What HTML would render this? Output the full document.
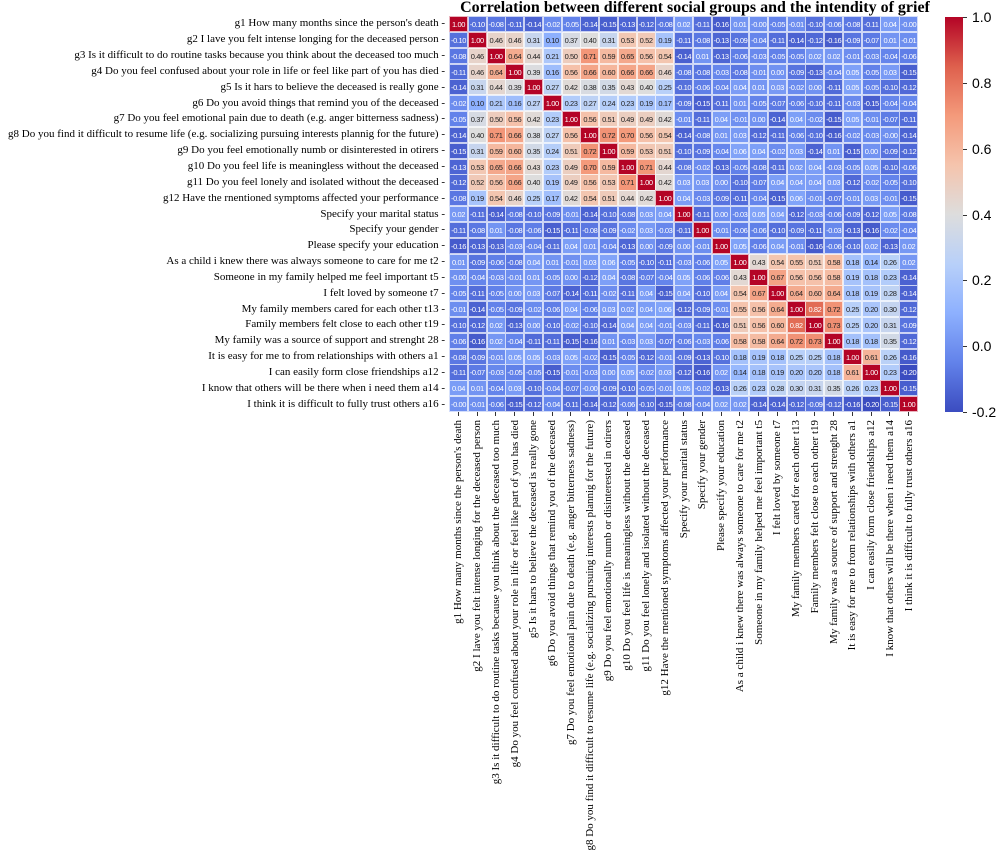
<!DOCTYPE html>
<html><head><meta charset="utf-8">
<style>
body{margin:0;background:#fff;width:1000px;height:865px;position:relative;overflow:hidden;font-family:"Liberation Serif",serif;}
.t{position:absolute;left:415px;top:0px;width:560px;text-align:center;font-weight:bold;font-size:16px;line-height:16px;white-space:nowrap}
.c{position:absolute;box-sizing:border-box;border:0.5px solid rgba(255,255,255,0.7);font-family:"Liberation Sans",sans-serif;font-size:7.5px;line-height:15.8px;text-align:center;overflow:visible;white-space:nowrap;letter-spacing:-0.4px}
.yl{position:absolute;right:555px;font-size:11px;white-space:nowrap;text-align:right;line-height:12px}
.xl{position:absolute;font-size:11px;white-space:nowrap;transform-origin:0 0;line-height:12px}
.tk{position:absolute;background:#333}
.cb{position:absolute;left:945px;top:17px;width:18px;height:395px;background:linear-gradient(to top,rgb(59,76,192),rgb(98,130,234) 12.5%,rgb(141,176,254) 25%,rgb(184,208,249) 37.5%,rgb(221,221,221) 50%,rgb(245,196,173) 62.5%,rgb(244,154,123) 75%,rgb(222,96,77) 87.5%,rgb(180,4,38))}
.cl{position:absolute;left:972px;font-family:"Liberation Sans",sans-serif;font-size:14px}
</style></head><body>
<div class="t">Correlation between different social groups and the intendity of grief</div>
<div class="cb"></div>
<div id="root"></div>
<script>
var L=["g1 How many months since the person's death","g2 I lave you felt intense longing for the deceased person","g3 Is it difficult to do routine tasks because you think about the deceased too much","g4 Do you feel confused about your role in life or feel like part of you has died","g5 Is it hars to believe the deceased is really gone","g6 Do you avoid things that remind you of the deceased","g7 Do you feel emotional pain due to death (e.g. anger bitterness sadness)","g8 Do you find it difficult to resume life (e.g. socializing pursuing interests plannig for the future)","g9 Do you feel emotionally numb or disinterested in otirers","g10 Do you feel life is meaningless without the deceased","g11 Do you feel lonely and isolated without the deceased","g12 Have the rnentioned symptoms affected your performance","Specify your marital status","Specify your gender","Please specify your education","As a child i knew there was always someone to care for me t2","Someone in my family helped me feel important t5","I felt loved by someone t7","My family members cared for each other t13","Family members felt close to each other t19","My family was a source of support and strenght 28","It is easy for me to from relationships with others a1","I can easily form close friendships a12","I know that others will be there when i need them a14","I think it is difficult to fully trust others a16"];
var N=25,M=[];for(var i=0;i<N;i++){M.push([]);for(var j=0;j<N;j++){var h=Math.sin((Math.min(i,j)*31+Math.max(i,j)*7)+1.3)*43758.5;h=h-Math.floor(h);M[i].push(i==j?1:(-0.16+h*0.22));}}
function S(i,j,v){M[i][j]=v;M[j][i]=v;}
var G=[[-.10,-.08,-.11,-.14,-.02,-.05,-.14,-.15,-.13,-.12,-.08],[.46,.46,.31,.10,.37,.40,.31,.53,.52,.19],[.64,.44,.21,.50,.71,.59,.65,.56,.54],[.39,.16,.56,.66,.60,.66,.66,.46],[.27,.42,.38,.35,.43,.40,.25],[.23,.27,.24,.23,.19,.17],[.56,.51,.49,.49,.42],[.72,.70,.56,.54],[.59,.53,.51],[.71,.44],[.42]];
for(var a=0;a<G.length;a++)for(var b=0;b<G[a].length;b++)S(a,a+1+b,G[a][b]);
var T=[[.43,.54,.55,.51,.58,.18,.14,.26,.02],[.67,.56,.56,.58,.19,.18,.23,-.14],[.64,.60,.64,.18,.19,.28,-.14],[.82,.72,.25,.20,.30,-.12],[.73,.25,.20,.31,-.09],[.18,.18,.35,-.12],[.61,.26,-.16],[.23,-.20],[-.15]];
for(a=0;a<T.length;a++)for(b=0;b<T[a].length;b++)S(15+a,16+a+b,T[a][b]);
S(12,13,-.11);S(12,14,0);S(13,14,-.01);
var P=[[0,[59,76,192]],[.125,[98,130,234]],[.25,[141,176,254]],[.375,[184,208,249]],[.5,[221,221,221]],[.625,[245,196,173]],[.75,[244,154,123]],[.875,[222,96,77]],[1,[180,4,38]]];
function col(v){var t=(v+0.2)/1.2;t=Math.max(0,Math.min(1,t));for(var k=0;k<P.length-1;k++){if(t<=P[k+1][0]){var f=(t-P[k][0])/(P[k+1][0]-P[k][0]);var c=[0,1,2].map(function(q){return Math.round(P[k][1][q]+f*(P[k+1][1][q]-P[k][1][q]))});return "rgb("+c.join(",")+")";}}return "rgb(180,4,38)";}
var x0=449,y0=16,cw=18.76,ch=15.84,h="";
for(i=0;i<N;i++)for(j=0;j<N;j++){var v=M[i][j];var t=(v+0.2)/1.2;var fc=(t<0.22||t>0.85)?"#fff":"#222";
h+='<div class="c" style="left:'+(x0+j*cw).toFixed(2)+'px;top:'+(y0+i*ch).toFixed(2)+'px;width:'+(cw+0.3).toFixed(2)+'px;height:'+(ch+0.3).toFixed(2)+'px;background:'+col(v)+';color:'+fc+'">'+(v<0?'-':'')+Math.abs(v).toFixed(2)+'</div>';}
for(i=0;i<N;i++){var yc=y0+i*ch+ch/2;h+='<div class="yl" style="top:'+(yc-6.5)+'px">'+L[i]+' -</div>';
var xc=x0+i*cw+cw/2;h+='<div class="tk" style="left:'+(xc-0.5)+'px;top:'+(y0+N*ch)+'px;width:1px;height:4px"></div>';
h+='<div class="xl" style="left:'+(xc-6)+'px;top:'+(y0+N*ch+8)+'px;transform:rotate(-90deg) translateX(-100%)">'+L[i]+'</div>';}
var labs=["1.0","0.8","0.6","0.4","0.2","0.0","-0.2"];
for(i=0;i<7;i++){var yy=17+395*(1-(1.0-0.2*i+0.2)/1.2);h+='<div class="cl" style="top:'+(yy-8)+'px">'+labs[i]+'</div><div class="tk" style="left:963px;top:'+yy+'px;width:4px;height:1px"></div>';}
document.getElementById("root").innerHTML=h;
</script>
</body></html>
